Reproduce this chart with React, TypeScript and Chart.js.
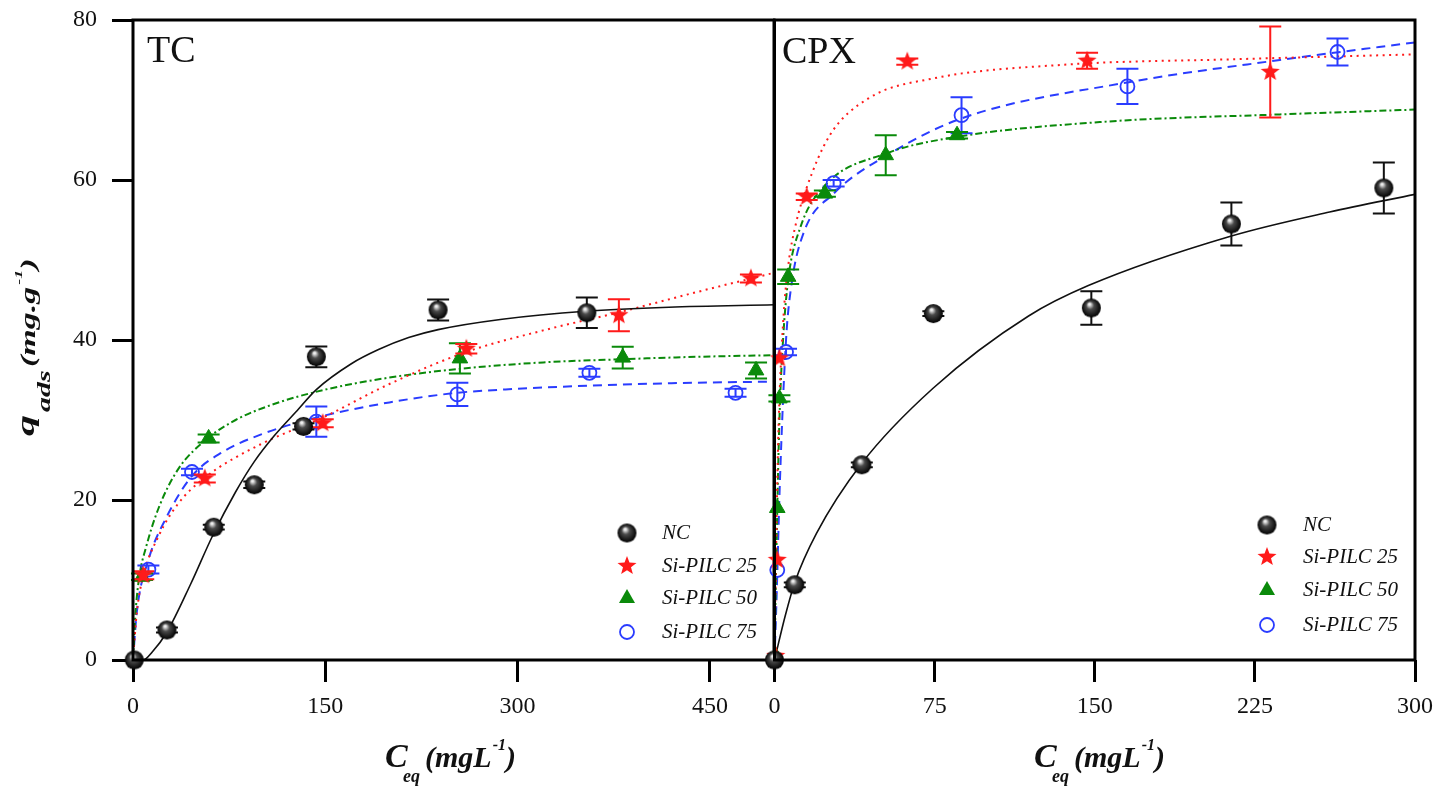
import { useEffect, useRef } from "react"
import { Chart, registerables } from "chart.js"

Chart.register(...registerables)

const SERIF = '"Liberation Serif", "DejaVu Serif", serif'

const seriesLabels = ["NC", "Si-PILC 25", "Si-PILC 50", "Si-PILC 75"]

// ---- TC panel: measured points ----
const tcTicks = [0, 150, 300, 450]
const tcNcX = [1, 26.5, 63, 94.6, 133, 143, 238, 354]
const tcNcY = [0, 3.75, 16.6, 21.9, 29.2, 37.9, 43.75, 43.4]
const tcNcErr = [0, 0.3, 0.3, 0.4, 0.4, 1.3, 1.3, 1.9]
const tc25X = [8, 56, 148, 260, 379, 482]
const tc25Y = [10.6, 22.7, 29.6, 38.9, 43.1, 47.7]
const tc25Err = [0.5, 0.5, 0.5, 0.6, 2.0, 0.5]
const tc50X = [7, 59, 255, 382, 486]
const tc50Y = [10.4, 27.7, 37.7, 37.8, 36.2]
const tc50Err = [0.4, 0.5, 1.9, 1.35, 1.0]
const tc75X = [12, 46, 143, 253, 356, 470]
const tc75Y = [11.3, 23.5, 29.8, 33.2, 35.9, 33.4]
const tc75Err = [0.5, 0.4, 1.9, 1.45, 0.5, 0.5]

// ---- TC panel: fitted curves ----
const tcNcFitX = [0, 8, 15, 26.5, 45, 62, 80, 94.6, 110, 127, 143, 170, 191.5, 215, 238, 288, 353, 418, 500]
const tcNcFitY = [0, 0, 1, 3.5, 9.5, 15.5, 21, 24.8, 28, 31, 33.8, 37, 38.8, 40.3, 41.3, 42.6, 43.6, 44.1, 44.4]
const tc25FitX = [0, 3, 8, 20, 35, 56, 100, 148, 200, 260, 320, 380, 440, 500]
const tc25FitY = [0, 6, 10.5, 15.5, 19.5, 22.8, 27, 30.3, 34.5, 38.5, 41.2, 43.5, 46, 48.4]
const tc50FitX = [0, 2, 5, 10, 20, 35, 59, 80, 110, 150, 200, 255, 320, 382, 440, 500]
const tc50FitY = [0, 6, 10.5, 14, 19, 23.8, 27.8, 30, 32, 33.8, 35.3, 36.4, 37.2, 37.6, 37.9, 38.1]
const tc75FitX = [0, 3, 12, 25, 46, 70, 100, 143, 200, 253, 300, 356, 420, 500]
const tc75FitY = [0, 6, 12.5, 17.5, 23, 26, 28.2, 30.3, 32.2, 33.4, 33.9, 34.3, 34.6, 34.8]

// ---- CPX panel: measured points ----
const cpTicks = [0, 75, 150, 225, 300]
const cpNcX = [0, 9.5, 40.9, 74.4, 148.4, 214, 285.4]
const cpNcY = [0, 9.4, 24.4, 43.3, 44, 54.5, 59]
const cpNcErr = [0, 0.3, 0.3, 0.3, 2.1, 2.7, 3.2]
const cp25X = [0.6, 1.3, 2.3, 15.1, 62.2, 146.4, 232.2]
const cp25Y = [0.5, 12.5, 37.7, 57.9, 74.8, 74.9, 73.5]
const cp25Err = [0, 0, 0, 0.4, 0.4, 1.0, 5.7]
const cp50X = [0.5, 1.3, 2.3, 6.4, 23.6, 52.1, 85.5]
const cp50Y = [0.5, 19, 32.7, 47.9, 58.3, 63.1, 65.6]
const cp50Err = [0, 0, 0.4, 0.9, 0.4, 2.5, 0.4]
const cp75X = [1.3, 5.4, 27.7, 87.6, 165.3, 263.7]
const cp75Y = [11.25, 38.5, 59.6, 68.1, 71.7, 76]
const cp75Err = [0, 0.4, 0.4, 2.25, 2.2, 1.7]

// ---- CPX panel: fitted curves ----
const cpNcFitX = [0, 5, 9.5, 19.6, 40.9, 74.4, 119, 147, 214, 260, 300]
const cpNcFitY = [0, 5.5, 9.7, 15.8, 24.6, 34, 43, 46.8, 53, 56, 58.2]
const cp25FitX = [0, 1, 2, 4, 6.3, 10, 15, 25.7, 44, 74.4, 135, 216, 300]
const cp25FitY = [0, 18, 30, 42, 49, 54.5, 59, 65.5, 70.2, 72.7, 74.4, 75.1, 75.7]
const cp50FitX = [0, 1, 2.3, 4, 6.4, 12, 23.6, 52, 85.6, 155.6, 236.7, 300]
const cp50FitY = [0, 15, 30, 40, 47.5, 54, 59.3, 63.3, 65.4, 67.3, 68.2, 68.8]
const cp75FitX = [0, 1, 2.5, 5.4, 8, 13.5, 27.7, 54, 87.6, 165.3, 236.7, 300]
const cp75FitY = [0, 8, 22, 40, 47, 53.3, 58.3, 63.3, 67.7, 72.2, 75, 77.2]

const yTicks = [0, 20, 40, 60, 80]

const BLACK = "#111111"
const RED = "#ff1a1a"
const GREEN = "#0a8a0a"
const BLUE = "#2a3cff"

const zip = (xs: number[], ys: number[]) => xs.map((x, i) => ({ x, y: ys[i] }))

function makeSphere(r: number) {
    const c = document.createElement("canvas")
    c.width = c.height = Math.ceil(r * 2 + 2)
    const ctx = c.getContext("2d")!
    const cx = c.width / 2
    const g = ctx.createRadialGradient(cx - r * 0.2, cx - r * 0.4, r * 0.1, cx, cx, r)
    g.addColorStop(0, "#f0f0f0")
    g.addColorStop(0.35, "#4a4a4a")
    g.addColorStop(1, "#000")
    ctx.fillStyle = g
    ctx.beginPath()
    ctx.arc(cx, cx, r, 0, Math.PI * 2)
    ctx.fill()
    return c
}

function makeStar(R: number, color: string) {
    const c = document.createElement("canvas")
    const s = Math.ceil(R * 2 + 2)
    c.width = c.height = s
    const ctx = c.getContext("2d")!
    ctx.fillStyle = color
    ctx.beginPath()
    for (let i = 0; i < 10; i++) {
        const rr = i % 2 === 0 ? R : R * 0.42
        const a = -Math.PI / 2 + (i * Math.PI) / 5
        const px = s / 2 + rr * Math.cos(a)
        const py = s / 2 + rr * Math.sin(a)
        if (i === 0) ctx.moveTo(px, py)
        else ctx.lineTo(px, py)
    }
    ctx.closePath()
    ctx.fill()
    return c
}

interface PanelDecor {
    canvasLeft: number
    label: string
    labelX: number
    labelY: number
    legendMarkerX: number
    legendTextX: number
    legendRows: number[]
    titleX: number
    yTitle: boolean
}

function drawXTitle(ctx: CanvasRenderingContext2D, x: number, base: number) {
    ctx.fillStyle = BLACK
    ctx.textAlign = "left"
    ctx.textBaseline = "alphabetic"
    ctx.font = `bold italic 34px ${SERIF}`
    ctx.fillText("C", x, base)
    ctx.font = `bold italic 18px ${SERIF}`
    ctx.fillText("eq", x + 18, base + 15)
    let cx = x + 40
    ctx.font = `bold italic 30px ${SERIF}`
    ctx.fillText("(mgL", cx, base)
    cx += ctx.measureText("(mgL").width + 1
    ctx.font = `bold italic 16px ${SERIF}`
    ctx.fillText("-1", cx, base - 17)
    cx += ctx.measureText("-1").width
    ctx.font = `bold italic 30px ${SERIF}`
    ctx.fillText(")", cx, base)
}

function drawYTitle(ctx: CanvasRenderingContext2D) {
    ctx.save()
    ctx.translate(35, 436)
    ctx.rotate(-Math.PI / 2)
    ctx.scale(1, 0.62)
    ctx.fillStyle = BLACK
    ctx.textAlign = "left"
    ctx.textBaseline = "alphabetic"
    ctx.font = `bold italic 42px ${SERIF}`
    ctx.fillText("q", 0, -2)
    ctx.font = `bold italic 30px ${SERIF}`
    ctx.fillText("ads", 24, 24)
    ctx.font = `bold italic 34px ${SERIF}`
    ctx.fillText("(mg.g", 69, 0)
    let cx = 69 + ctx.measureText("(mg.g").width + 2
    ctx.font = `bold italic 18px ${SERIF}`
    ctx.fillText("-1", cx, -21)
    cx += ctx.measureText("-1").width
    ctx.font = `bold italic 34px ${SERIF}`
    ctx.fillText(")", cx, 0)
    ctx.restore()
}

function decorPlugin(d: PanelDecor, sphere: HTMLCanvasElement, star: HTMLCanvasElement) {
    return {
        id: "decor",
        beforeDatasetDraw(chart: any, args: any) {
            const ds = chart.data.datasets[args.index] as any
            if (!ds.errors) return
            const ctx = chart.ctx as CanvasRenderingContext2D
            const xs = chart.scales.x
            const ys = chart.scales.y
            ctx.save()
            ctx.strokeStyle = ds.errColor
            ctx.lineWidth = 2
            ds.data.forEach((p: { x: number; y: number }, i: number) => {
                const e = ds.errors[i]
                if (!e) return
                const px = xs.getPixelForValue(p.x)
                const top = ys.getPixelForValue(p.y + e)
                const bot = ys.getPixelForValue(p.y - e)
                ctx.beginPath()
                ctx.moveTo(px, top)
                ctx.lineTo(px, bot)
                ctx.moveTo(px - 11, top)
                ctx.lineTo(px + 11, top)
                ctx.moveTo(px - 11, bot)
                ctx.lineTo(px + 11, bot)
                ctx.stroke()
            })
            ctx.restore()
        },
        afterDraw(chart: any) {
            const ctx = chart.ctx as CanvasRenderingContext2D
            const a = chart.chartArea
            ctx.save()
            // frame
            ctx.strokeStyle = "#000"
            ctx.lineWidth = 3
            ctx.strokeRect(a.left, a.top, a.right - a.left, a.bottom - a.top)
            ctx.translate(-d.canvasLeft, 0)
            // panel label
            ctx.fillStyle = BLACK
            ctx.font = `38px ${SERIF}`
            ctx.textAlign = "left"
            ctx.textBaseline = "alphabetic"
            ctx.fillText(d.label, d.labelX, d.labelY)
            // legend
            d.legendRows.forEach((ry, i) => {
                const mx = d.legendMarkerX
                if (i === 0) ctx.drawImage(sphere, mx - sphere.width / 2, ry - sphere.height / 2)
                if (i === 1) ctx.drawImage(star, mx - star.width / 2, ry - star.height / 2)
                if (i === 2) {
                    ctx.fillStyle = GREEN
                    ctx.beginPath()
                    ctx.moveTo(mx, ry - 9)
                    ctx.lineTo(mx + 8, ry + 5)
                    ctx.lineTo(mx - 8, ry + 5)
                    ctx.closePath()
                    ctx.fill()
                }
                if (i === 3) {
                    ctx.strokeStyle = BLUE
                    ctx.lineWidth = 1.8
                    ctx.beginPath()
                    ctx.arc(mx, ry, 7, 0, Math.PI * 2)
                    ctx.stroke()
                }
                ctx.fillStyle = BLACK
                ctx.font = `italic 21px ${SERIF}`
                ctx.textBaseline = "middle"
                ctx.fillText(seriesLabels[i], d.legendTextX, ry)
            })
            drawXTitle(ctx, d.titleX, 767)
            if (d.yTitle) drawYTitle(ctx)
            ctx.restore()
        },
    }
}

interface PanelProps {
    left: number
    width: number
    xMax: number
    xTicks: number[]
    padRight: number
    yAxisWidth: number
    showYLabels: boolean
    decor: PanelDecor
    marks: { x: number[]; y: number[]; err: number[] }[]
    fits: { x: number[]; y: number[] }[]
}

function Panel(props: PanelProps) {
    const chartRef = useRef<HTMLCanvasElement | null>(null)
    const chartInstance = useRef<Chart | null>(null)

    useEffect(() => {
        if (!chartRef.current) return
        if (chartInstance.current) chartInstance.current.destroy()
        const ctx = chartRef.current.getContext("2d")
        if (!ctx) return

        const sphere = makeSphere(9.5)
        const star = makeStar(10, RED)
        const colors = [BLACK, RED, GREEN, BLUE]
        const styles: any[] = [sphere, star, "triangle", "circle"]
        const dashes = [[], [2, 4.5], [7, 3, 2, 3], [9, 6]]

        const markSets = props.marks.map((m, i) => ({
            label: seriesLabels[i],
            data: zip(m.x, m.y),
            errors: m.err,
            errColor: colors[i],
            showLine: false,
            pointStyle: styles[i],
            pointRadius: i === 2 ? 9 : i === 3 ? 7 : 8,
            pointHoverRadius: i === 2 ? 9 : 7,
            pointBackgroundColor: i === 3 ? "rgba(255,255,255,0)" : colors[i],
            pointBorderColor: colors[i],
            pointBorderWidth: i === 3 ? 1.8 : 1,
            clip: false as any,
            order: 0,
        }))
        const fitSets = props.fits.map((f, i) => ({
            label: seriesLabels[i] + " fit",
            data: zip(f.x, f.y),
            showLine: true,
            pointRadius: 0,
            borderColor: colors[i],
            borderWidth: i === 0 ? 1.6 : 2,
            borderDash: dashes[i],
            tension: 0.4,
            cubicInterpolationMode: "monotone" as const,
            order: 1,
        }))

        const tickFont = { family: SERIF, size: 24 }

        chartInstance.current = new Chart(ctx, {
            type: "scatter",
            data: { datasets: [...markSets, ...fitSets] as any },
            options: {
                animation: false,
                responsive: true,
                maintainAspectRatio: false,
                layout: { autoPadding: false, padding: { top: 20, right: props.padRight, left: 0, bottom: 0 } },
                plugins: { legend: { display: false }, tooltip: { enabled: false } },
                scales: {
                    x: {
                        type: "linear",
                        min: 0,
                        max: props.xMax,
                        afterBuildTicks: (axis: any) => {
                            axis.ticks = props.xTicks.map((v) => ({ value: v }))
                        },
                        afterFit: (scale: any) => {
                            scale.height = 128
                            scale.paddingLeft = 0
                            scale.paddingRight = 0
                        },
                        ticks: { font: tickFont, color: "#111", padding: 10, maxRotation: 0 },
                        grid: { drawOnChartArea: false, drawTicks: true, tickLength: 22, lineWidth: 3, color: "#000" },
                        border: { display: false },
                    },
                    y: {
                        type: "linear",
                        min: 0,
                        max: 80,
                        afterBuildTicks: (axis: any) => {
                            axis.ticks = yTicks.map((v) => ({ value: v }))
                        },
                        afterFit: (scale: any) => {
                            scale.width = props.yAxisWidth
                            scale.paddingTop = 0
                            scale.paddingBottom = 0
                        },
                        ticks: { display: props.showYLabels, font: tickFont, color: "#111", padding: 15 },
                        grid: {
                            display: props.showYLabels,
                            drawOnChartArea: false,
                            drawTicks: true,
                            tickLength: 21,
                            lineWidth: 3,
                            color: "#000",
                        },
                        border: { display: false },
                    },
                },
            },
            plugins: [decorPlugin(props.decor, sphere, star)],
        })

        return () => {
            if (chartInstance.current) {
                chartInstance.current.destroy()
                chartInstance.current = null
            }
        }
    }, [])

    return (
        <div style={{ position: "absolute", left: props.left, top: 0, width: props.width, height: 788 }}>
            <canvas ref={chartRef} />
        </div>
    )
}

export default function App() {
    return (
        <div style={{ position: "fixed", left: 0, top: 0, width: 1443, height: 788, background: "#fff", overflow: "hidden" }}>
            <Panel
                left={0}
                width={790}
                xMax={500}
                xTicks={tcTicks}
                padRight={16}
                yAxisWidth={133}
                showYLabels={true}
                decor={{
                    canvasLeft: 0,
                    label: "TC",
                    labelX: 147,
                    labelY: 62,
                    legendMarkerX: 627,
                    legendTextX: 662,
                    legendRows: [533, 566, 598, 632],
                    titleX: 385,
                    yTitle: true,
                }}
                marks={[
                    { x: tcNcX, y: tcNcY, err: tcNcErr },
                    { x: tc25X, y: tc25Y, err: tc25Err },
                    { x: tc50X, y: tc50Y, err: tc50Err },
                    { x: tc75X, y: tc75Y, err: tc75Err },
                ]}
                fits={[
                    { x: tcNcFitX, y: tcNcFitY },
                    { x: tc25FitX, y: tc25FitY },
                    { x: tc50FitX, y: tc50FitY },
                    { x: tc75FitX, y: tc75FitY },
                ]}
            />
            <Panel
                left={700}
                width={743}
                xMax={300}
                xTicks={cpTicks}
                padRight={28}
                yAxisWidth={74.5}
                showYLabels={false}
                decor={{
                    canvasLeft: 700,
                    label: "CPX",
                    labelX: 782,
                    labelY: 63,
                    legendMarkerX: 1267,
                    legendTextX: 1303,
                    legendRows: [525, 557, 590, 625],
                    titleX: 1034,
                    yTitle: false,
                }}
                marks={[
                    { x: cpNcX, y: cpNcY, err: cpNcErr },
                    { x: cp25X, y: cp25Y, err: cp25Err },
                    { x: cp50X, y: cp50Y, err: cp50Err },
                    { x: cp75X, y: cp75Y, err: cp75Err },
                ]}
                fits={[
                    { x: cpNcFitX, y: cpNcFitY },
                    { x: cp25FitX, y: cp25FitY },
                    { x: cp50FitX, y: cp50FitY },
                    { x: cp75FitX, y: cp75FitY },
                ]}
            />
        </div>
    )
}
